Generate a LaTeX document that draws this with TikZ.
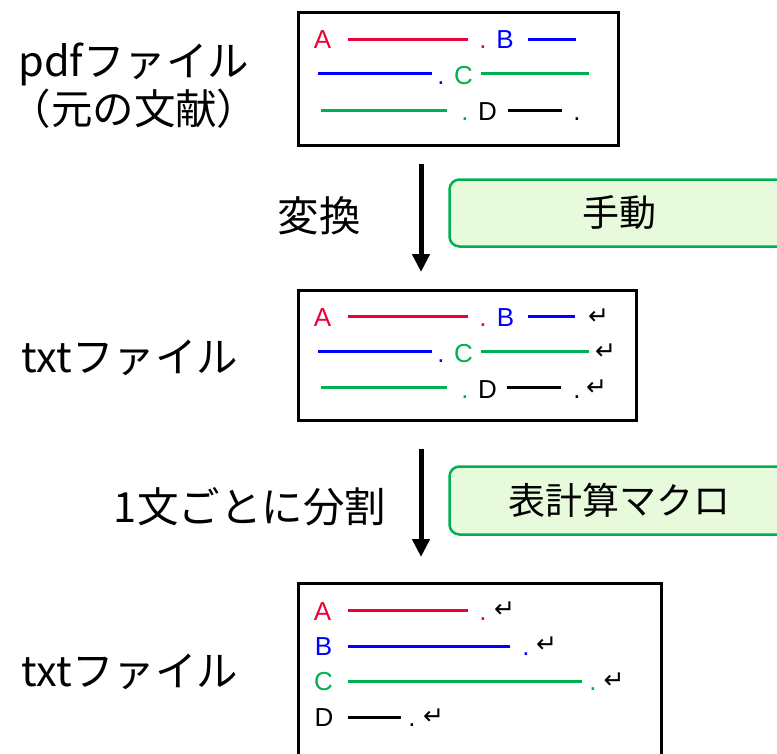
\documentclass[tikz,border=0pt]{standalone}
\usepackage{fontspec}
\setmainfont{Liberation Sans}
\newfontfamily\jp{Noto Sans CJK JP}
\newfontfamily\dv{DejaVu Sans}
\usetikzlibrary{arrows.meta}
\definecolor{cred}{RGB}{235,0,55}
\definecolor{cblue}{RGB}{0,0,255}
\definecolor{cgreen}{RGB}{0,176,80}
\definecolor{tagfill}{RGB}{232,250,220}
\tikzset{
  docbox/.style={draw=black, line width=3pt, fill=white, inner sep=0pt},
  tagbox/.style={draw=cgreen, line width=2.5pt, fill=tagfill, rounded corners=10pt, inner sep=0pt},
  lbl/.style={font=\jp\fontsize{41.5}{48}\selectfont, inner sep=0pt, align=center, text=black},
  taglbl/.style={font=\jp\fontsize{37}{44}\selectfont, inner sep=0pt, text=black},
  let/.style={font=\fontsize{26}{30}\selectfont, inner sep=0pt, anchor=base},
  ret/.style={font=\dv\fontsize{25}{28}\selectfont, inner sep=0pt, anchor=center},
  seg/.style={line width=3pt},
  flow/.style={line width=5pt, -{Triangle[length=18pt,width=17pt]}},
}
\begin{document}
\begin{tikzpicture}[x=1pt,y=-1pt]
\path[use as bounding box, clip] (0,0) rectangle (777,753);
\fill[white] (0,0) rectangle (777,753);

% labels left
\node[lbl] (lpdf) at (134,86) {pdfファイル\\（元の文献）};
\node[lbl] (ltxt1) at (130,358) {txtファイル};
\node[lbl] (ltxt2) at (130,672) {txtファイル};
\node[lbl] (lconv) at (319,216) {変換};
\node[lbl] (lsplit) at (250,507) {1文ごとに分割};

% arrows
\coordinate (a1s) at (421,164);
\coordinate (a1e) at (421,272);
\coordinate (a2s) at (421,449);
\coordinate (a2e) at (421,557);
\draw[flow] (a1s) -- (a1e);
\draw[flow] (a2s) -- (a2e);

% tag boxes
\node[tagbox, minimum width=340pt, minimum height=67pt] (tag1) at (619.5,213) {};
\node[taglbl] (tag1t) at (tag1.center) {手動};
\node[tagbox, minimum width=340pt, minimum height=68pt] (tag2) at (619.5,500.5) {};
\node[taglbl] (tag2t) at (tag2.center) {表計算マクロ};

% box 1
\node[docbox, minimum width=320pt, minimum height=133pt] (box1) at (458.5,79) {};
\node[let, text=cred] (b1a) at (322.5,48) {A};
\draw[seg, cred] (348,39) -- (468,39);
\node[let, text=cred] (b1ad) at (483,48) {.};
\node[let, text=cblue] (b1b) at (505,48) {B};
\draw[seg, cblue] (528,39) -- (576,39);
\draw[seg, cblue] (318,73) -- (432,73);
\node[let, text=cblue] (b1bd) at (441,84) {.};
\node[let, text=cgreen] (b1c) at (463.5,84) {C};
\draw[seg, cgreen] (481,73) -- (589,73);
\draw[seg, cgreen] (321,110) -- (447,110);
\node[let, text=cgreen] (b1cd) at (465,120) {.};
\node[let, text=black] (b1d) at (487.5,120) {D};
\draw[seg, black] (508,110) -- (562,110);
\node[let, text=black] (b1dd) at (577,120) {.};

% box 2
\node[docbox, minimum width=338pt, minimum height=130pt] (box2) at (467.5,355.5) {};
\node[let, text=cred] (b2a) at (322.5,326) {A};
\draw[seg, cred] (348,316) -- (468,316);
\node[let, text=cred] (b2ad) at (483,326) {.};
\node[let, text=cblue] (b2b) at (505.5,326) {B};
\draw[seg, cblue] (528,316) -- (575,316);
\node[ret] (b2r1) at (598.5,316.5) {↵};
\draw[seg, cblue] (318,351) -- (432,351);
\node[let, text=cblue] (b2bd) at (441,362) {.};
\node[let, text=cgreen] (b2c) at (463.5,362) {C};
\draw[seg, cgreen] (481,351) -- (589,351);
\node[ret] (b2r2) at (605.5,351.5) {↵};
\draw[seg, cgreen] (321,387) -- (447,387);
\node[let, text=cgreen] (b2cd) at (465,398) {.};
\node[let, text=black] (b2d) at (487.5,398) {D};
\draw[seg, black] (507,387) -- (561,387);
\node[let, text=black] (b2dd) at (577,398) {.};
\node[ret] (b2r3) at (596.5,388) {↵};

% box 3
\node[docbox, minimum width=363pt, minimum height=190pt] (box3) at (480,678) {};
\node[let, text=cred] (b3a) at (322.5,620) {A};
\draw[seg, cred] (348,610) -- (468,610);
\node[let, text=cred] (b3ad) at (483,620) {.};
\node[ret] (b3r1) at (504.5,609.5) {↵};
\node[let, text=cblue] (b3b) at (323.5,655) {B};
\draw[seg, cblue] (348,646) -- (510,646);
\node[let, text=cblue] (b3bd) at (526,655) {.};
\node[ret] (b3r2) at (546.5,645) {↵};
\node[let, text=cgreen] (b3c) at (323.5,690) {C};
\draw[seg, cgreen] (348,681) -- (582,681);
\node[let, text=cgreen] (b3cd) at (593,690) {.};
\node[ret] (b3r3) at (614,681) {↵};
\node[let, text=black] (b3d) at (324,726) {D};
\draw[seg, black] (348,717) -- (401,717);
\node[let, text=black] (b3dd) at (412,726) {.};
\node[ret] (b3r4) at (433.5,716.5) {↵};
\end{tikzpicture}
\end{document}
